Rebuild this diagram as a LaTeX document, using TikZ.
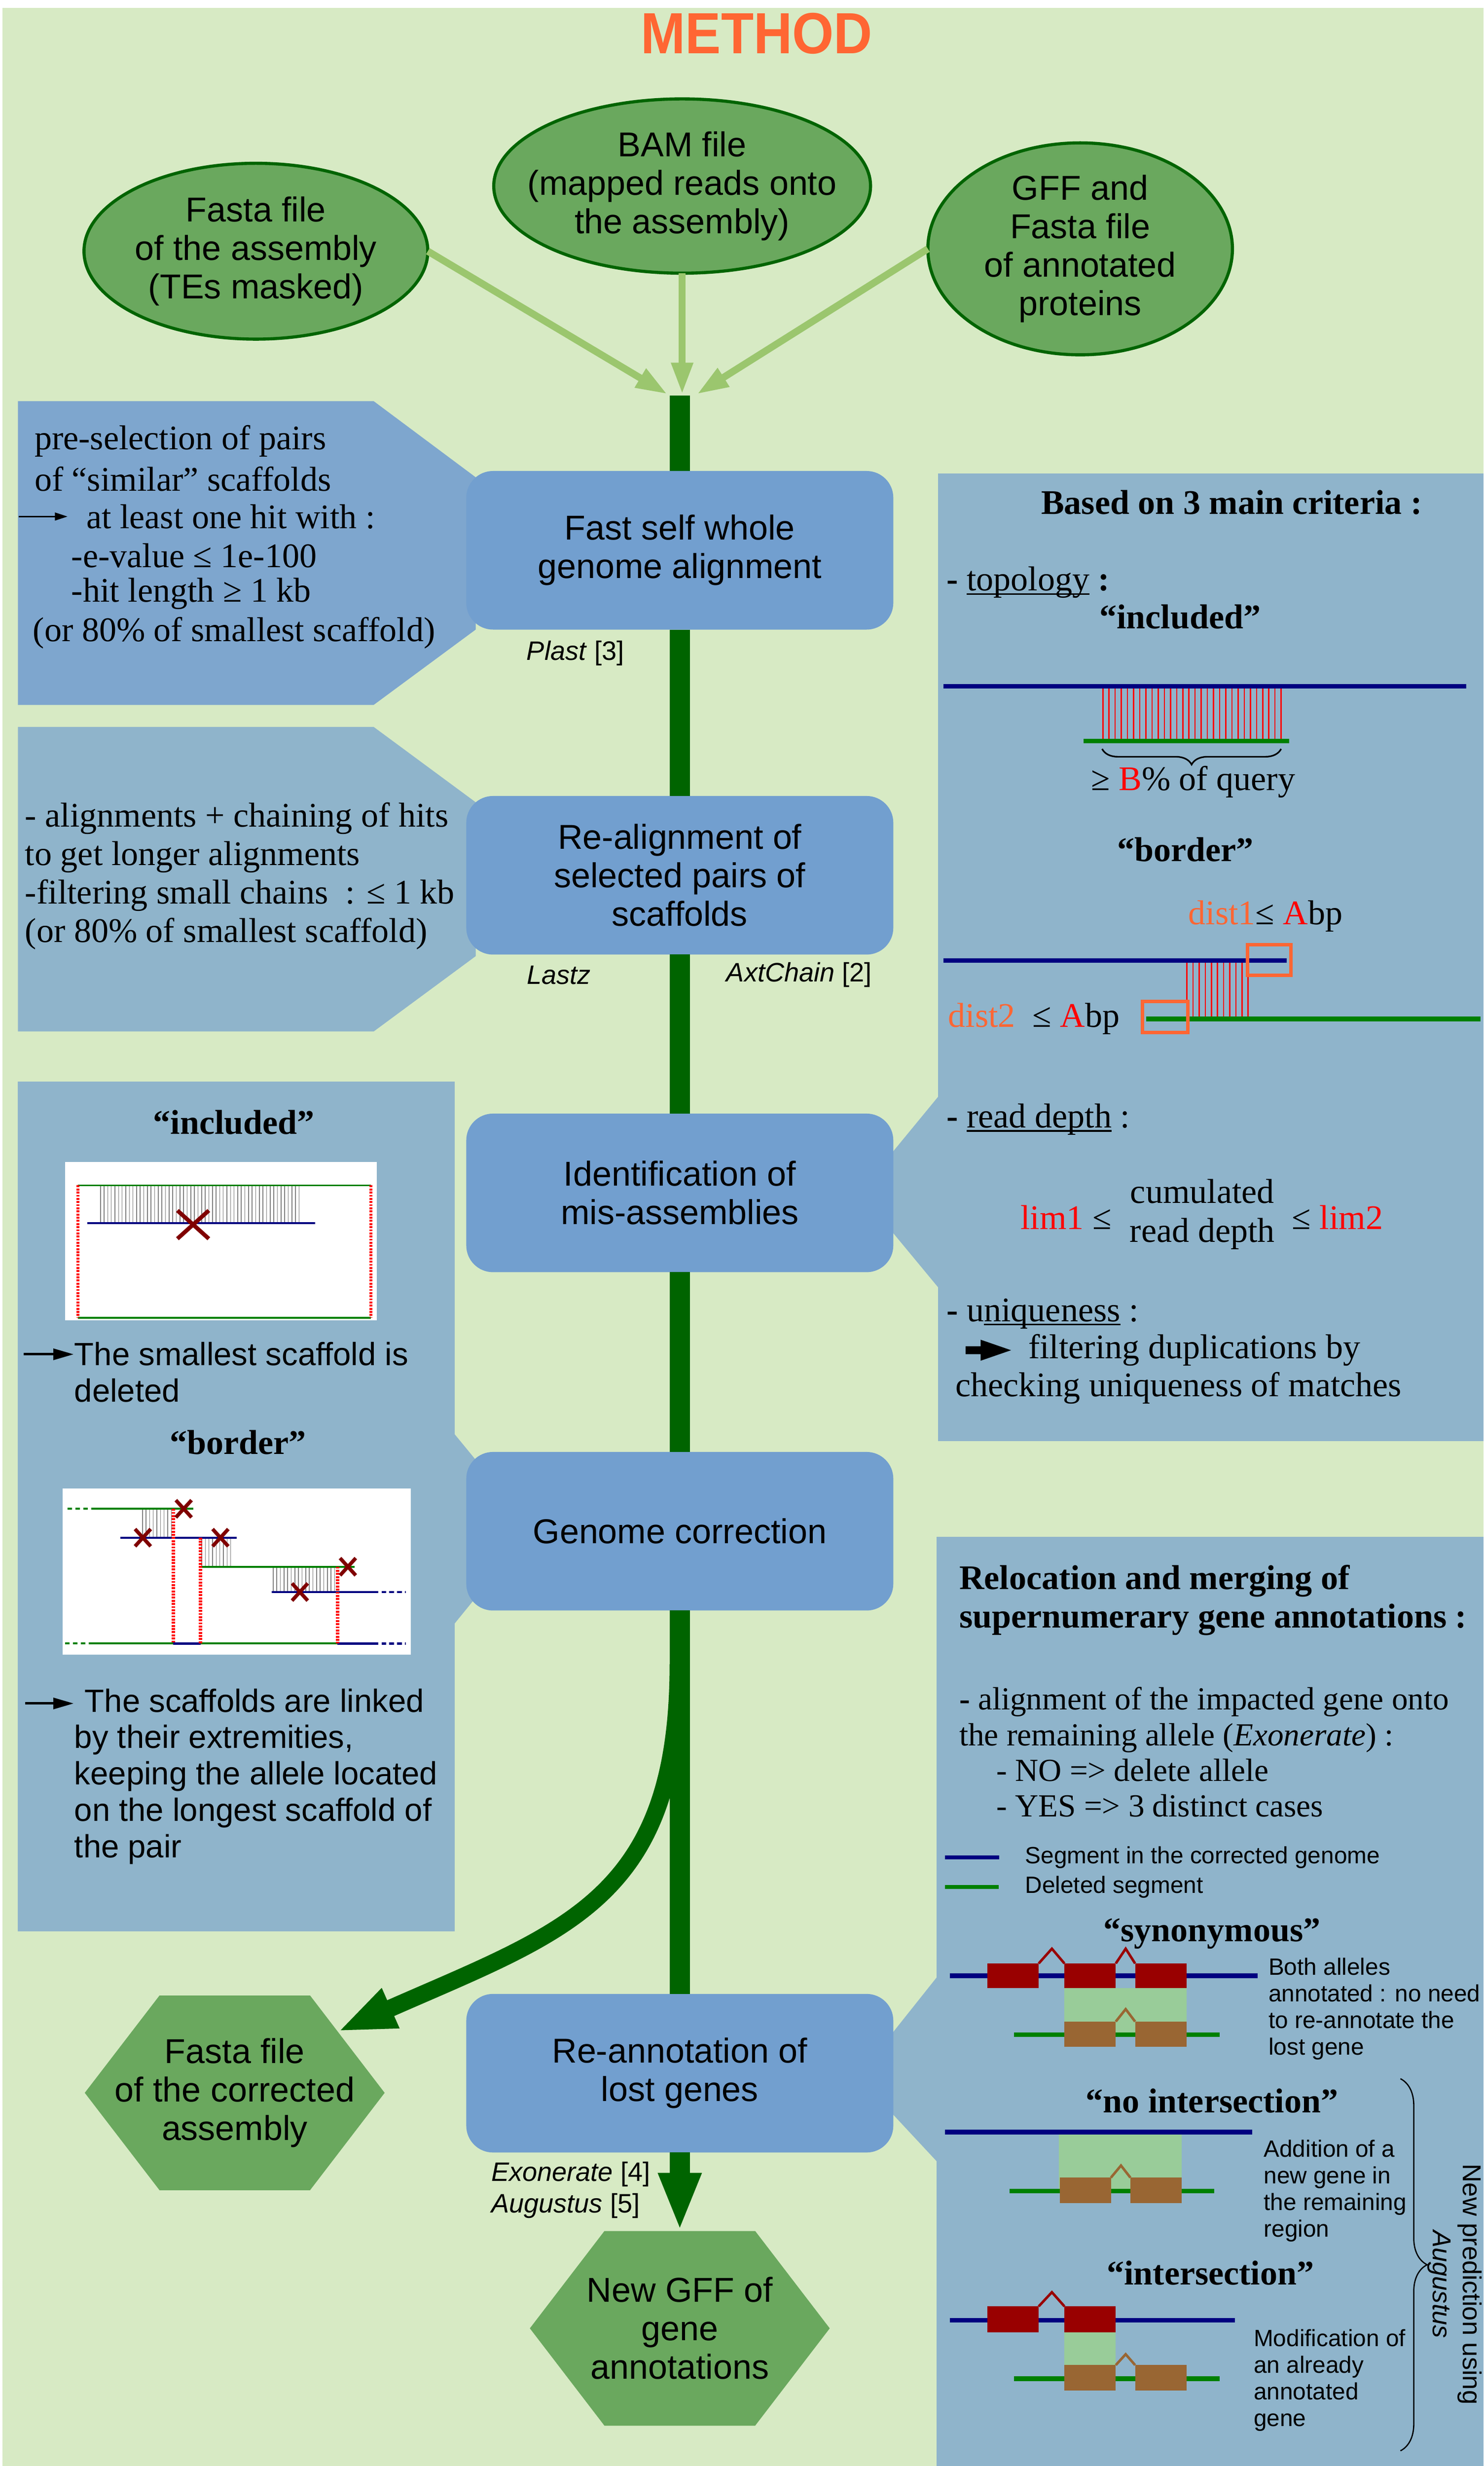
\documentclass[tikz,border=0pt]{standalone}
\usepackage{fontspec}
\usepackage{graphicx}
\setmainfont{Liberation Serif}
\setsansfont{Liberation Sans}
\usetikzlibrary{shapes.geometric,arrows.meta,decorations.pathreplacing}
\definecolor{bgc}{HTML}{D7EAC4}
\definecolor{procblue}{HTML}{729FCF}
\definecolor{panelA}{HTML}{7EA6CE}
\definecolor{panelB}{HTML}{8FB4CB}
\definecolor{ellgreen}{HTML}{6AA85E}
\definecolor{elldark}{HTML}{006400}
\definecolor{trunkc}{HTML}{006400}
\definecolor{lightgr}{HTML}{9BC66E}
\definecolor{orangeT}{HTML}{FF6633}
\definecolor{navyc}{HTML}{000080}
\definecolor{greenc}{HTML}{008000}
\definecolor{xred}{HTML}{800000}
\definecolor{exonred}{HTML}{990000}
\definecolor{brownc}{HTML}{996633}
\definecolor{lgreen}{HTML}{99CC99}
\definecolor{grayl}{HTML}{7F7F7F}
\newcommand{\myul}[1]{\setbox0=\hbox{#1}\rlap{\rule[-2.6pt]{\wd0}{1.1pt}}\box0\relax}
\begin{document}
\begin{tikzpicture}[x=1pt,y=-1pt,
  every node/.style={inner sep=0pt, outer sep=0pt},
  procbox/.style={fill=procblue, rounded corners=17pt, minimum width=272pt, minimum height=101pt, align=center, font=\sffamily\fontsize{22}{24.5}\selectfont},
  elltxt/.style={align=center, font=\sffamily\fontsize{22}{24.5}\selectfont},
  ell/.style={ellipse, fill=ellgreen, draw=elldark, line width=2pt},
  ser/.style={font=\fontsize{22}{24.5}\selectfont, align=left, anchor=west},
  serb/.style={font=\bfseries\fontsize{22}{24.5}\selectfont},
  sansl/.style={font=\sffamily\fontsize{17}{20}\selectfont},
  sans15/.style={font=\sffamily\fontsize{15}{17}\selectfont, align=left, anchor=west},
  sans20/.style={font=\sffamily\fontsize{20.5}{23.2}\selectfont, align=left, anchor=west},
  lightarrow/.style={draw=lightgr, line width=4.5pt, -{Triangle[width=13pt,length=20pt]}},
  trunk/.style={draw=trunkc, line width=13pt},
  bigtip/.style={-{Triangle[width=25pt,length=37pt]}},
  thinarrow/.style={draw=black, line width=1.6pt, -{Triangle[width=7pt,length=13pt]}},
  tinyarrow/.style={draw=black, line width=0.8pt, -{Triangle[width=5pt,length=8pt]}},
  xmark/.style={draw=xred, line width=2.3pt},
  reddot/.style={draw=red, line width=2pt, dash pattern=on 1.2pt off 0.8pt},
  gl/.style={draw=greenc, line width=1.2pt},
  bl/.style={draw=navyc, line width=1.4pt},
  grl/.style={draw=grayl, line width=0.5pt},
  redl/.style={draw=red, line width=0.8pt},
  gene/.style={line width=3pt}
]
\useasboundingbox (0,0) rectangle (945,1570.7);
\fill[white] (0,0) rectangle (945,1570.7);
\fill[bgc] (1.5,5) rectangle (945,1570.7);

% ---------------- panels
\fill[panelA] (11.4,255.5) -- (238,255.5) -- (303,304) -- (303,401) -- (238,449) -- (11.4,449) -- cycle;
\fill[panelB] (11.4,463) -- (238,463) -- (303,511) -- (303,609) -- (238,657) -- (11.4,657) -- cycle;
\fill[panelB] (11.4,689) rectangle (289.5,1230);
\fill[panelB] (289,912.8) -- (320,950.5) -- (320,996.7) -- (289,1034.8) -- cycle;
\fill[panelB] (597.5,301.5) rectangle (945,918);
\fill[panelB] (598,698) -- (560,744.2) -- (560,774.6) -- (598,820.5) -- cycle;
\fill[panelB] (596.7,979) rectangle (945,1570.7);
\fill[panelB] (597,1259) -- (560,1305.5) -- (560,1337.3) -- (597,1377) -- cycle;

% ---------------- title
\node[font=\sffamily\bfseries\fontsize{37}{40}\selectfont, text=orangeT] (title) at (482,21.5) {\scalebox{0.92}[1]{METHOD}};

% ---------------- input ellipses
\node[ell, minimum width=219pt, minimum height=112pt] (fa) at (163,160) {};
\node[elltxt] (fatxt) at (fa.center) {Fasta file\\of the assembly\\(TEs masked)};
\node[ell, minimum width=240pt, minimum height=111pt] (bam) at (434.5,118.5) {};
\node[elltxt] (bamtxt) at (bam.center) {BAM file\\(mapped reads onto\\the assembly)};
\node[ell, minimum width=194pt, minimum height=135pt] (gffin) at (688,158.5) {};
\node[elltxt] (gffintxt) at (gffin.center) {GFF and\\Fasta file\\of annotated\\proteins};

\coordinate (tipL) at (425,251);
\coordinate (tipM) at (434.5,251);
\coordinate (tipR) at (444,251);
\draw[lightarrow] (fa.east) -- (tipL);
\draw[lightarrow] (bam.south) -- (tipM);
\draw[lightarrow] (gffin.west) -- (tipR);

% ---------------- process boxes
\node[procbox] (fast) at (433,350.5) {Fast self whole\\genome alignment};
\node[procbox] (realign) at (433,557.5) {Re-alignment of\\selected pairs of\\scaffolds};
\node[procbox] (ident) at (433,759.8) {Identification of\\mis-assemblies};
\node[procbox] (gencor) at (433,975.3) {Genome correction};
\node[procbox] (reann) at (433,1320.5) {Re-annotation of\\lost genes};

% ---------------- output hexagons
\fill[ellgreen] (54,1333) -- (101.6,1271) -- (197.5,1271) -- (245,1333) -- (197.5,1395) -- (101.6,1395) -- cycle;
\node[elltxt, minimum width=191pt, minimum height=124pt] (fcor) at (149.5,1333) {Fasta file\\of the corrected\\assembly};
\fill[ellgreen] (337.5,1483) -- (385,1421) -- (481,1421) -- (528.5,1483) -- (481,1545) -- (385,1545) -- cycle;
\node[elltxt, minimum width=191pt, minimum height=124pt] (gffout) at (433,1483) {New GFF of\\gene\\annotations};

% ---------------- trunk
\coordinate (trunktop) at (433,252);
\draw[trunk] (trunktop) -- (fast);
\draw[trunk] (fast) -- (realign);
\draw[trunk] (realign) -- (ident);
\draw[trunk] (ident) -- (gencor);
\draw[trunk] (gencor) -- (reann);
\draw[trunk, bigtip] (reann) -- (gffout.north);
\coordinate (branch) at (432,1060);
\coordinate (fcortip) at (215,1294);
\draw[trunk, line width=11pt, bigtip] (branch) .. controls (432,1210) and (360,1230) .. (fcortip);

% ---------------- tool labels
\node[sansl] (plast) at (366.5,416) {\textit{Plast} [3]};
\node[sansl] (lastz) at (356,621) {\textit{Lastz}};
\node[sansl] (axt) at (509,621) {\textit{AxtChain} [2]};
\node[sansl, align=left, anchor=west] (exon) at (313,1395) {\textit{Exonerate} [4]\\\textit{Augustus} [5]};

% ---------------- left box 1
\node[ser] (l1a) at (22,281) {pre-selection of pairs};
\node[ser] (l1b) at (22,305) {of “similar” scaffolds};
\coordinate (l1s) at (12,329);
\coordinate (l1e) at (43,329);
\draw[tinyarrow] (l1s) -- (l1e);
\node[ser] (l1c) at (55,329) {at least one hit with :};
\node[ser] (l1d) at (45.5,354) {-e-value ≤ 1e-100};
\node[ser] (l1e2) at (45.5,378) {-hit length ≥ 1 kb};
\node[ser] (l1f) at (21,403) {(or 80\% of smallest scaffold)};

% ---------------- left box 2
\node[ser] (l2) at (16,558) {- alignments + chaining of hits\\to get longer alignments\\-filtering small chains~ : ≤ 1 kb\\(or 80\% of smallest scaffold)};

% ---------------- left panel 3
\node[serb] (inc1) at (149,715) {“included”};
\fill[white] (41.4,740) rectangle (240,841);
\foreach \x in {64,66.3,...,191} \draw[grl] (\x,755) -- (\x,779);
\draw[gl] (49.5,755) -- (236.2,755);
\draw[gl] (49.5,839.4) -- (236.2,839.4);
\draw[bl] (55.6,779) -- (200.7,779);
\draw[reddot] (49.7,755) -- (49.7,839.4);
\draw[reddot] (236.2,755) -- (236.2,839.4);
\draw[xmark, line width=2.6pt] (113,771) -- (133,789) (113,789) -- (133,771);

\coordinate (a1s) at (15,862.6);
\coordinate (a1e) at (47,862.6);
\draw[thinarrow] (a1s) -- (a1e);
\node[sans20] (smallest) at (47.4,874) {The smallest scaffold is\\deleted};
\node[serb] (bord1) at (151.6,918.6) {“border”};

\fill[white] (40,948) rectangle (261.7,1054);
\foreach \x in {90.7,93,...,110} \draw[grl] (\x,961) -- (\x,979.4);
\foreach \x in {128.5,130.8,...,148} \draw[grl] (\x,979.4) -- (\x,997.9);
\foreach \x in {174,176.3,...,214} \draw[grl] (\x,997.9) -- (\x,1014);
\draw[gl, dash pattern=on 3pt off 2pt] (43,961) -- (59,961);
\draw[gl] (59,961) -- (123,961);
\draw[bl] (76.8,979.4) -- (150.8,979.4);
\draw[gl] (128,997.9) -- (226,997.9);
\draw[bl] (173,1014) -- (241,1014);
\draw[bl, dash pattern=on 3pt off 2pt] (243,1014) -- (258.4,1014);
\draw[gl, dash pattern=on 3pt off 2pt] (41.4,1046.8) -- (59,1046.8);
\draw[gl] (59,1046.8) -- (110.4,1046.8);
\draw[bl] (110.4,1046.8) -- (127.7,1046.8);
\draw[gl] (127.7,1046.8) -- (215,1046.8);
\draw[bl] (215,1046.8) -- (241,1046.8);
\draw[bl, dash pattern=on 3pt off 2pt] (243,1046.8) -- (258.4,1046.8);
\draw[reddot] (110.4,961) -- (110.4,1046.8);
\draw[reddot] (127.7,979.4) -- (127.7,1046.8);
\draw[reddot] (215,997.9) -- (215,1046.8);
\foreach \cx/\cy in {117/961, 91/979.4, 140.4/979.4, 191/1014, 221.6/997.9}
  \draw[xmark] (\cx-5,\cy-5.5) -- (\cx+5,\cy+5.5) (\cx-5,\cy+5.5) -- (\cx+5,\cy-5.5);

\coordinate (a2s) at (16,1085);
\coordinate (a2e) at (47,1085);
\draw[thinarrow] (a2s) -- (a2e);
\node[sans20] (linked) at (47.4,1131.5) {\hspace*{6.6pt}The scaffolds are linked\\by their extremities,\\keeping the allele located\\on the longest scaffold of\\the pair};

% ---------------- right panel 1
\node[serb] (crit) at (784.5,320) {Based on 3 main criteria :};
\node[ser] (topo) at (603,371) {\textbf{-} \myul{topology} \textbf{:}};
\node[serb] (inc2) at (751.6,393) {“included”};
\foreach \i in {0,...,29} \draw[redl] ({702.5+3.914*\i},437) -- ({702.5+3.914*\i},472);
\draw[navyc, line width=2.8pt] (601,437) -- (934,437);
\draw[greenc, line width=3pt] (690,472) -- (821,472);
\draw[decorate, decoration={brace, amplitude=10pt}, line width=1pt] (816,477) -- (702,477);
\node[font=\fontsize{22}{24.5}\selectfont] (bq) at (760,498) {≥ \textcolor{red}{B}\% of query};
\node[serb] (bord2) at (755,541) {“border”};
\node[ser] (d1) at (757,583.6) {\textcolor{orangeT}{dist1}≤ \textcolor{red}{A}bp};
\foreach \i in {0,...,10} \draw[redl] ({756+3.9*\i},612) -- ({756+3.9*\i},649);
\draw[navyc, line width=2.8pt] (601,611.7) -- (819.6,611.7);
\draw[greenc, line width=3pt] (730,649) -- (943,649);
\draw[orangeT, line width=2.2pt] (794.7,601.6) rectangle (822.4,621.3);
\draw[orangeT, line width=2.2pt] (727.8,637.8) rectangle (756.7,657.5);
\node[ser] (d2) at (604,649) {\textcolor{orangeT}{dist2}~~≤ \textcolor{red}{A}bp};
\node[ser] (rd) at (603,713) {\textbf{-} \myul{read depth} :};
\node[ser] (lim1) at (650,775.4) {\textcolor{red}{lim1} ≤};
\node[font=\fontsize{22}{24.7}\selectfont, align=center] (cum) at (765.8,773.4) {cumulated\\read depth};
\node[ser] (lim2) at (823,775.4) {≤ \textcolor{red}{lim2}};
\node[ser] (uniq) at (603,836.7) {\textbf{-} u\myul{niqueness} :};
\fill[black] (615,857.5) -- (624.6,857.5) -- (624.6,853.3) -- (644,860) -- (624.6,866.7) -- (624.6,862.5) -- (615,862.5) -- cycle;
\node[ser] (filt) at (655,860) {filtering duplications by};
\node[ser] (check) at (608.7,884) {checking uniqueness of matches};

% ---------------- right panel 2
\node[serb, align=left, anchor=west, font=\bfseries\fontsize{22}{24.6}\selectfont] (reloc) at (611,1019.3) {Relocation and merging of\\supernumerary gene annotations :};
\node[ser, font=\fontsize{20.5}{22.7}\selectfont] (align2) at (611,1116) {\textbf{-} alignment of the impacted gene onto\\the remaining allele (\textit{Exonerate}) :\\\hspace*{23.7pt}- NO => delete allele\\\hspace*{23.7pt}- YES => 3 distinct cases};
\draw[navyc, line width=2.5pt] (602,1183) -- (636.5,1183);
\draw[greenc, line width=2.5pt] (602,1202) -- (636,1202);
\node[sans15] (leg1) at (653,1183) {Segment in the corrected genome};
\node[sans15] (leg2) at (653,1202) {Deleted segment};

\node[serb] (syn) at (772,1231.5) {“synonymous”};
\draw[navyc, gene] (605,1258.5) -- (801,1258.5);
\fill[lgreen] (678,1266.4) rectangle (755.7,1295);
\draw[greenc, gene] (646,1296) -- (777,1296);
\fill[exonred] (629,1250.6) rectangle (661.6,1266.4);
\fill[exonred] (678,1250.6) rectangle (710.7,1266.4);
\fill[exonred] (723,1250.6) rectangle (755.7,1266.4);
\draw[exonred, line width=1.6pt] (661.6,1250.6) -- (670,1241.2) -- (678,1250.6);
\draw[exonred, line width=1.6pt] (710.7,1250.6) -- (717,1241.2) -- (723,1250.6);
\fill[brownc] (678,1287.6) rectangle (710.7,1303.8);
\fill[brownc] (723,1287.6) rectangle (755.7,1303.8);
\draw[brownc, line width=1.6pt] (710.7,1287.6) -- (717,1279.7) -- (723,1287.6);
\node[sans15] (both) at (808,1279.5) {Both alleles\\annotated : no need\\to re-annotate the\\lost gene};

\node[serb] (noint) at (772,1338) {“no intersection”};
\draw[navyc, gene] (602,1358) -- (797.6,1358);
\fill[lgreen] (674.5,1359.5) rectangle (752.7,1394);
\draw[greenc, gene] (643,1395.6) -- (773.5,1395.6);
\fill[brownc] (675,1387) rectangle (707.6,1403.3);
\fill[brownc] (720,1387) rectangle (752.7,1403.3);
\draw[brownc, line width=1.6pt] (707.6,1387) -- (714,1379.3) -- (720,1387);
\node[sans15] (addit) at (805,1395.4) {Addition of a\\new gene in\\the remaining\\region};

\node[serb] (inter) at (771,1447.6) {“intersection”};
\draw[navyc, gene] (605,1477.8) -- (786.7,1477.8);
\fill[lgreen] (678,1485.6) rectangle (710.7,1513.5);
\draw[greenc, gene] (646,1515) -- (777,1515);
\fill[exonred] (629,1469) rectangle (661.6,1485.6);
\fill[exonred] (678,1469) rectangle (710.7,1485.6);
\draw[exonred, line width=1.6pt] (661.6,1469) -- (670,1460) -- (678,1469);
\fill[brownc] (678,1506.4) rectangle (710.7,1522.7);
\fill[brownc] (723,1506.4) rectangle (755.7,1522.7);
\draw[brownc, line width=1.6pt] (710.7,1506.4) -- (717,1499.5) -- (723,1506.4);
\node[sans15] (modif) at (798.6,1516) {Modification of\\an already\\annotated\\gene};

\draw[decorate, decoration={brace, amplitude=17pt}, line width=0.8pt] (892,1324) -- (892,1561);
\node[font=\sffamily\fontsize{16.5}{19}\selectfont, align=center, rotate=-90] (newpred) at (926.5,1455) {New prediction using\\\textit{Augustus}};
\end{tikzpicture}
\end{document}
